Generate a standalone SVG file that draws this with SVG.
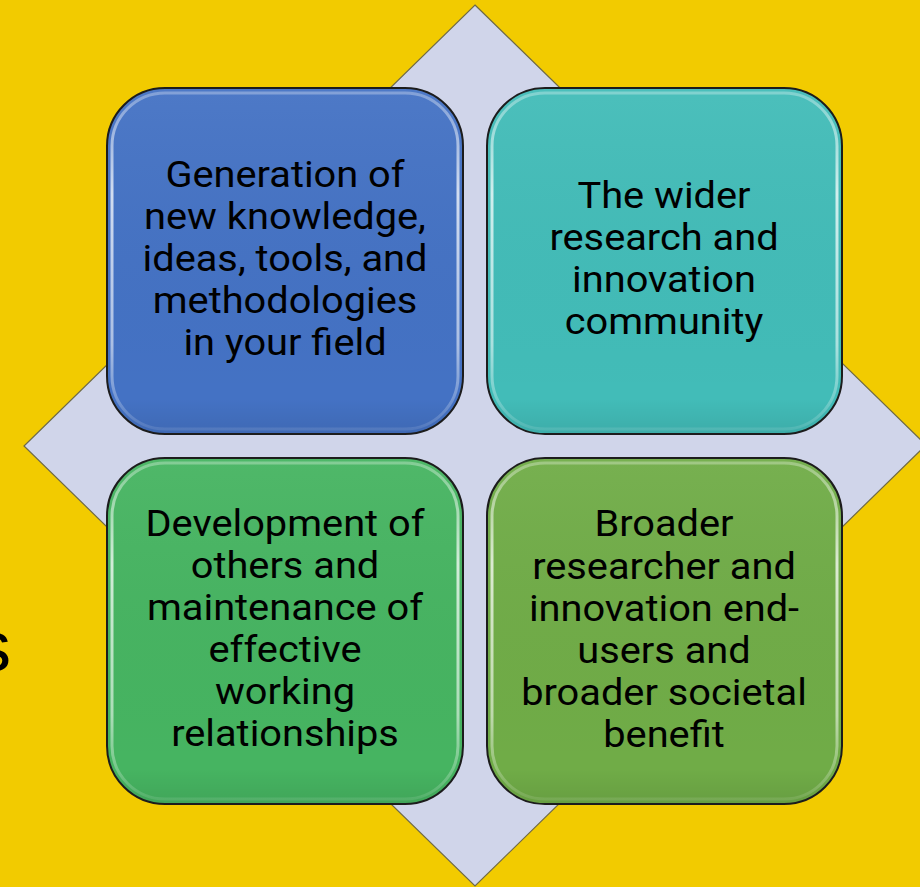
<svg xmlns="http://www.w3.org/2000/svg" width="920" height="887" viewBox="0 0 920 887">
<defs>
<style>
.box{stroke:#1c1c1c;stroke-width:2}
.hl{fill:none;stroke:url(#hlg);stroke-width:3}
.shade{fill:url(#shg);stroke:none}
.t{font-family:Roboto,"Liberation Sans",sans-serif;font-size:36.5px;fill:#000;text-anchor:middle}
</style>
<linearGradient id="hlg" x1="0" y1="0" x2="0" y2="1">
<stop offset="0" stop-color="#fff" stop-opacity="0.3"/>
<stop offset="0.3" stop-color="#fff" stop-opacity="0.75"/>
<stop offset="0.75" stop-color="#fff" stop-opacity="0.55"/>
<stop offset="1" stop-color="#fff" stop-opacity="0.1"/>
</linearGradient>
<linearGradient id="shg" x1="0" y1="0" x2="0" y2="1">
<stop offset="0" stop-color="#fff" stop-opacity="0.05"/>
<stop offset="0.9" stop-color="#000" stop-opacity="0"/>
<stop offset="1" stop-color="#000" stop-opacity="0.08"/>
</linearGradient>
</defs>
<rect x="0" y="0" width="920" height="887" fill="#F2CB00"/>
<text x="11" y="671" font-family="'Liberation Sans',Arial,sans-serif" font-size="72" text-anchor="end" fill="#000">s</text>
<polygon points="475,5 926,445 475,886 24,446" fill="#D0D5EA" stroke="#6f6a45" stroke-width="1.2"/>
<g id="connectors"></g>
<g id="node-generation">
<rect class="box" x="107" y="88" width="356" height="346" rx="58" fill="#4472C4"/>
<rect class="shade" x="108" y="89" width="354" height="344" rx="57"/>
<rect class="hl" x="112" y="93" width="346" height="336" rx="53"/>
<g transform="translate(285,0) scale(1.09,1)">
<text class="t" x="0" y="187">Generation of</text>
<text class="t" x="0" y="229">new knowledge,</text>
<text class="t" x="0" y="271">ideas, tools, and</text>
<text class="t" x="0" y="313">methodologies</text>
<text class="t" x="0" y="355">in your field</text>
</g>
</g>
<g id="node-community">
<rect class="box" x="487" y="88" width="355" height="346" rx="58" fill="#42BCB8"/>
<rect class="shade" x="488" y="89" width="353" height="344" rx="57"/>
<rect class="hl" x="492" y="93" width="345" height="336" rx="53"/>
<g transform="translate(664,0) scale(1.09,1)">
<text class="t" x="0" y="208">The wider</text>
<text class="t" x="0" y="250">research and</text>
<text class="t" x="0" y="292">innovation</text>
<text class="t" x="0" y="334">community</text>
</g>
</g>
<g id="node-development">
<rect class="box" x="107" y="458" width="356" height="346" rx="58" fill="#46B461"/>
<rect class="shade" x="108" y="459" width="354" height="344" rx="57"/>
<rect class="hl" x="112" y="463" width="346" height="336" rx="53"/>
<g transform="translate(285,0) scale(1.09,1)">
<text class="t" x="0" y="536">Development of</text>
<text class="t" x="0" y="578">others and</text>
<text class="t" x="0" y="620">maintenance of</text>
<text class="t" x="0" y="662">effective</text>
<text class="t" x="0" y="704">working</text>
<text class="t" x="0" y="746">relationships</text>
</g>
</g>
<g id="node-broader">
<rect class="box" x="487" y="458" width="355" height="346" rx="58" fill="#70AC47"/>
<rect class="shade" x="488" y="459" width="353" height="344" rx="57"/>
<rect class="hl" x="492" y="463" width="345" height="336" rx="53"/>
<g transform="translate(664,0) scale(1.09,1)">
<text class="t" x="0" y="536">Broader</text>
<text class="t" x="0" y="579">researcher and</text>
<text class="t" x="0" y="621">innovation end-</text>
<text class="t" x="0" y="663">users and</text>
<text class="t" x="0" y="705">broader societal</text>
<text class="t" x="0" y="747">benefit</text>
</g>
</g>
</svg>
